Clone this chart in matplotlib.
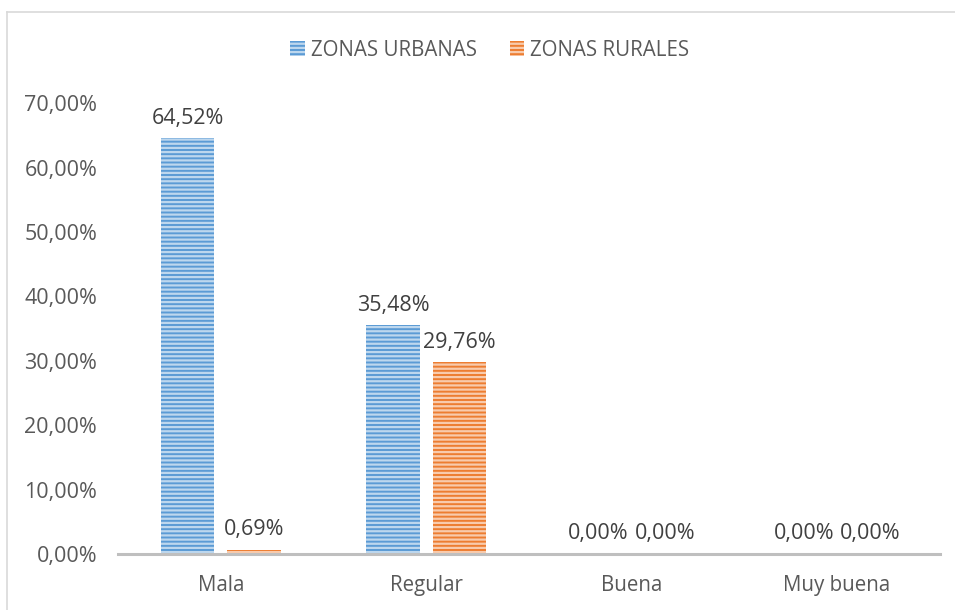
import matplotlib
matplotlib.use("Agg")
import matplotlib.pyplot as plt
from matplotlib.lines import Line2D
import numpy as np

categories = ["Mala", "Regular", "Buena", "Muy buena"]
urbanas = [64.52, 35.48, 0.00, 0.00]
rurales = [0.69, 29.76, 0.00, 0.00]
series_names = ["ZONAS URBANAS", "ZONAS RURALES"]
yticks = [0, 10, 20, 30, 40, 50, 60, 70]

plt.rcParams['font.family'] = ['Open Sans', 'DejaVu Sans']
plt.rcParams['hatch.linewidth'] = 1.6
txt = '#595959'
fs_txt = 14.8
fs_num = 15.5

fig = plt.figure(figsize=(9.55, 6.1), dpi=100)
ax = fig.add_axes([0.1236, 0.0918, 0.984 - 0.1236, 0.831 - 0.0918])

x = np.arange(len(categories))
w = 0.26
off = 0.162
b1 = ax.bar(x - off, urbanas, w, color='#5B9BD5', edgecolor='#BDD7EE', linewidth=0, hatch='----', label=series_names[0])
b2 = ax.bar(x + off, rurales, w, color='#ED7D31', edgecolor='#F8CBAD', linewidth=0, hatch='----', label=series_names[1])

def fmt(v):
    return f"{v:.2f}".replace('.', ',') + '%'

for bars, vals in ((b1, urbanas), (b2, rurales)):
    for r, v in zip(bars, vals):
        ax.annotate(fmt(v), (r.get_x() + r.get_width() / 2, v), xytext=(0, 7),
                    textcoords='offset points', ha='center', va='bottom',
                    fontsize=fs_num, color='#404040')

ax.set_xlim(-0.5, 3.5)
ax.set_ylim(0, 70)
ax.set_yticks(yticks)
ax.set_yticklabels([f"{t},00%" for t in yticks])
ax.set_xticks(x)
ax.set_xticklabels(categories)
ax.tick_params(axis='x', length=0, labelsize=fs_txt, colors=txt, pad=15)
ax.tick_params(axis='y', length=0, labelsize=fs_num, colors=txt, pad=15)
for s in ['top', 'right', 'left']:
    ax.spines[s].set_visible(False)
ax.spines['bottom'].set_color('#BFBFBF')
ax.spines['bottom'].set_linewidth(2.2)

leg = fig.legend(handles=[b1, b2], loc='center', bbox_to_anchor=(0.513, 0.918), ncol=2,
                 frameon=False, fontsize=fs_txt, handlelength=0.7, handleheight=0.7,
                 handletextpad=0.3, columnspacing=1.6)
for t in leg.get_texts():
    t.set_color(txt)

# outer frame (chart area border)
fig.add_artist(Line2D([7/955, 7/955], [0, 1 - 12/610], transform=fig.transFigure, color='#D9D9D9', lw=1.2))
fig.add_artist(Line2D([7/955, 1], [1 - 12/610, 1 - 12/610], transform=fig.transFigure, color='#D9D9D9', lw=1.2))

fig.savefig('out.png', dpi=100)
